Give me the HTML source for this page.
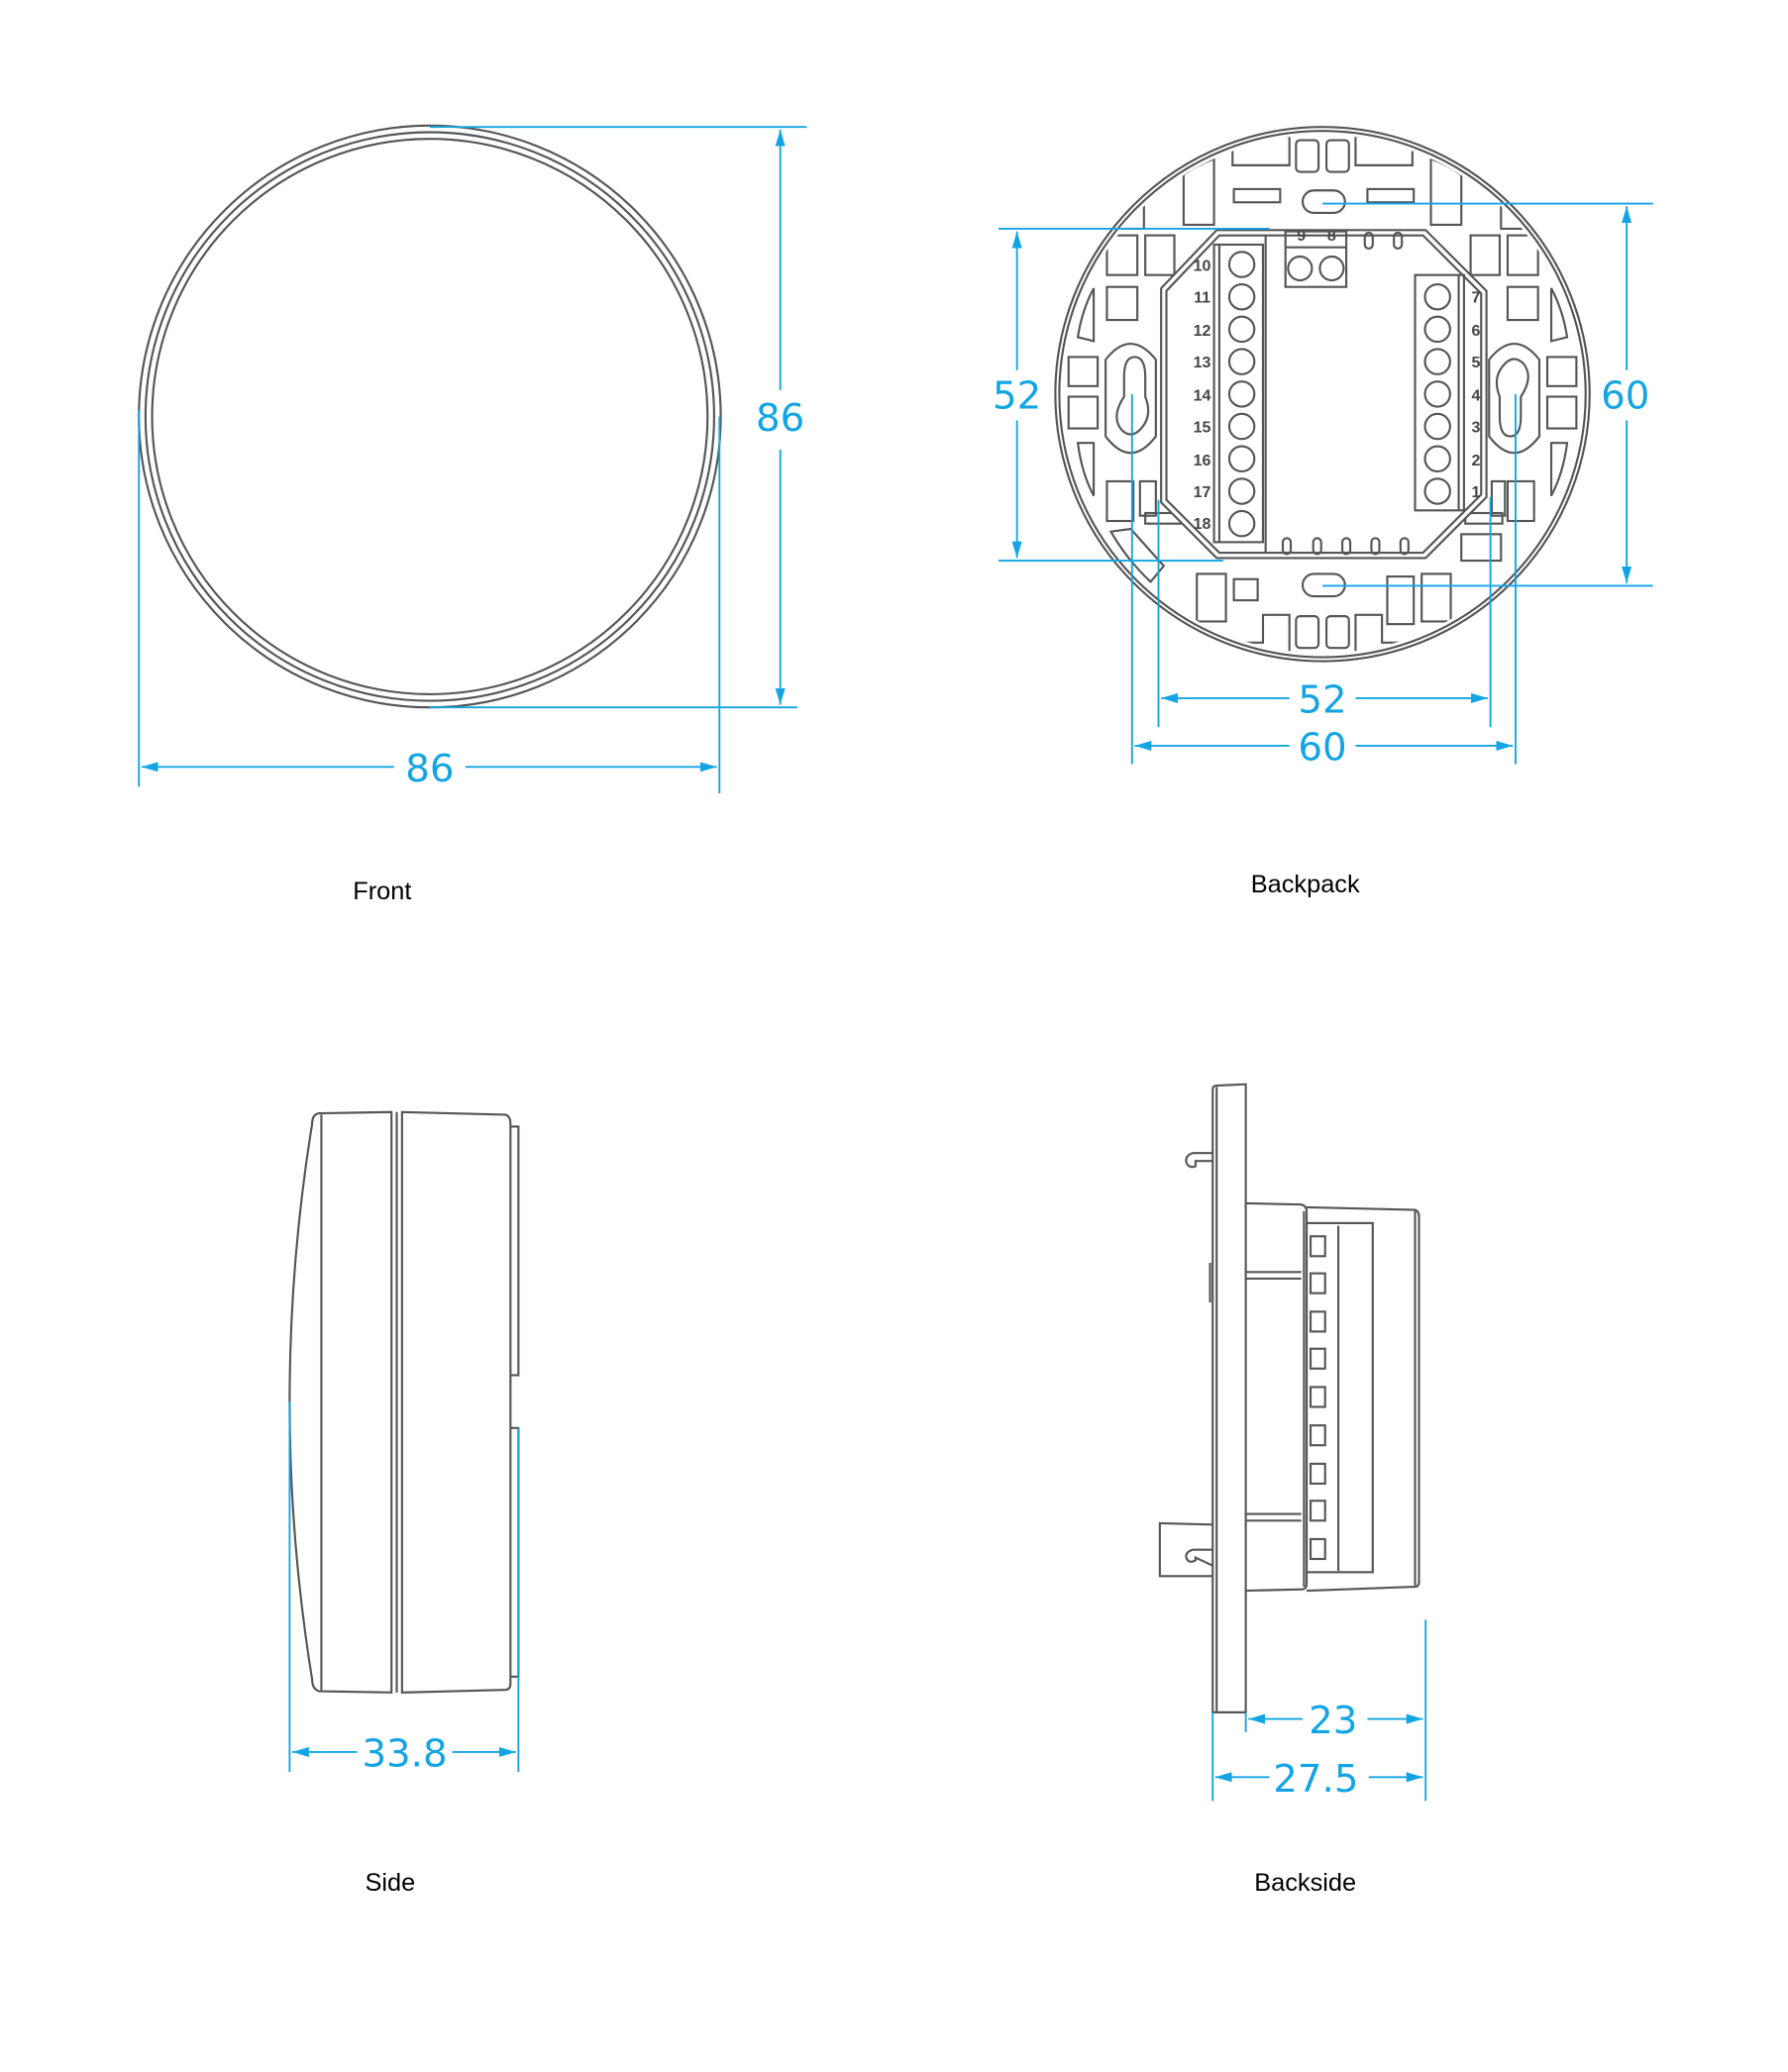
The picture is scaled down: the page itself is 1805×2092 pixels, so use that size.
<!DOCTYPE html>
<html><head><meta charset="utf-8"><style>
html,body{margin:0;padding:0;background:#fff;width:1805px;height:2092px;overflow:hidden}
svg{display:block}
.l{fill:none;stroke:#555;stroke-width:1.6}
.b{fill:none;stroke:#13a5e3;stroke-width:1.4}
.t{fill:#13a5e3;font-family:"DejaVu Sans","Liberation Sans",sans-serif;font-size:29px;text-anchor:middle}
.k{fill:#000;font-family:"Liberation Sans",sans-serif;font-size:19px;text-anchor:middle}
.n{fill:#444;font-family:"Liberation Sans",sans-serif;font-size:12px;font-weight:bold;text-anchor:middle}
</style></head><body>
<svg width="1805" height="2092" viewBox="0 0 1352 1567" xmlns="http://www.w3.org/2000/svg">
<defs>
<marker id="a" viewBox="0 0 10 10" refX="10" refY="5" markerWidth="9" markerHeight="9" orient="auto-start-reverse"><path d="M0,2 L10,5 L0,8 z" fill="#13a5e3"/></marker>
<clipPath id="cc"><circle cx="1000" cy="298" r="196"/></clipPath>
</defs>

<!-- FRONT -->
<circle class="l" cx="325" cy="315" r="220"/>
<circle class="l" cx="325" cy="315" r="215"/>
<circle class="l" cx="325" cy="315" r="210"/>
<line class="b" x1="325" y1="96" x2="610" y2="96"/>
<line class="b" x1="325" y1="535" x2="603" y2="535"/>
<line class="b" x1="590" y1="98" x2="590" y2="295" marker-start="url(#a)"/>
<line class="b" x1="590" y1="340" x2="590" y2="533" marker-end="url(#a)"/>
<text class="t" x="590" y="326">86</text>
<line class="b" x1="105" y1="310" x2="105" y2="595"/>
<line class="b" x1="544" y1="315" x2="544" y2="600"/>
<line class="b" x1="107" y1="580" x2="298" y2="580" marker-start="url(#a)"/>
<line class="b" x1="352" y1="580" x2="542" y2="580" marker-end="url(#a)"/>
<text class="t" x="325" y="591">86</text>
<text class="k" x="289" y="680">Front</text>

<!-- BACKPACK -->
<circle class="l" cx="1000" cy="298" r="202"/>
<circle class="l" cx="1000" cy="298" r="199"/>
<g class="l" clip-path="url(#cc)">
<path d="M932,110 Q950,104 975,103 L975,125 L932,125 Z"/>
<rect x="980" y="106" width="17" height="24" rx="3"/>
<rect x="1003" y="106" width="17" height="24" rx="3"/>
<path d="M1068,110 Q1050,104 1025,103 L1025,125 L1068,125 Z"/>
<rect x="933" y="143" width="35" height="10"/><rect x="1034" y="143" width="35" height="10"/>
<rect x="985" y="144" width="32" height="17" rx="8.5"/>
<rect x="985" y="434" width="32" height="17" rx="8.5"/>
<path d="M932,486 Q950,492 975,493 L975,465 L955,465 L955,486 Z"/>
<rect x="980" y="466" width="17" height="24" rx="3"/>
<rect x="1003" y="466" width="17" height="24" rx="3"/>
<path d="M1068,486 Q1050,492 1025,493 L1025,465 L1045,465 L1045,486 Z"/>
<rect x="933" y="438" width="18" height="16"/><rect x="1049" y="436" width="20" height="36"/>
<rect x="1075" y="434" width="22" height="36"/><rect x="905" y="434" width="22" height="36"/>
<rect x="808" y="270" width="22" height="22"/><rect x="808" y="300" width="22" height="24"/>
<path d="M815,255 Q818,235 827,218 L827,258 Z"/>
<path d="M815,335 Q818,358 827,375 L827,335 Z"/>
<rect x="837" y="178" width="23" height="30"/><rect x="866" y="178" width="22" height="30"/>
<rect x="837" y="217" width="23" height="25"/>
<rect x="837" y="364" width="20" height="30"/><rect x="862" y="364" width="12" height="26"/>
<path d="M843,173 L843,150 Q855,135 865,128 L865,173 Z"/>
<path d="M895,170 L895,132 Q905,125 918,120 L918,170 Z"/>
<path d="M840,402 Q852,423 870,440 L880,428 L855,400 Z"/>
<rect x="1170" y="270" width="22" height="22"/><rect x="1170" y="300" width="22" height="24"/>
<path d="M1185,255 Q1182,235 1173,218 L1173,258 Z"/>
<path d="M1185,335 Q1182,358 1173,375 L1173,335 Z"/>
<rect x="1140" y="178" width="23" height="30"/><rect x="1112" y="178" width="22" height="30"/>
<rect x="1140" y="217" width="23" height="25"/>
<rect x="1140" y="364" width="20" height="30"/><rect x="1128" y="364" width="10" height="26"/>
<path d="M1157,173 L1157,150 Q1145,135 1135,128 L1135,173 Z"/>
<path d="M1105,170 L1105,132 Q1095,125 1082,120 L1082,170 Z"/>
<rect x="1105" y="404" width="30" height="20"/>
<path d="M836,272 Q855,248 874,272 L874,330 Q855,355 836,330 Z"/>
<path d="M850,300 L850,285 Q850,270 858,270 Q866,270 866,285 L866,300 Q872,315 862,325 Q855,332 848,325 Q840,315 850,300 Z"/>
<path d="M1126,272 Q1145,248 1164,272 L1164,330 Q1145,355 1126,330 Z"/>
<path d="M1150,300 L1150,315 Q1150,330 1142,330 Q1134,330 1134,315 L1134,300 Q1128,285 1138,275 Q1145,268 1152,275 Q1160,285 1150,300 Z"/>
<rect x="866" y="388" width="28" height="8"/><rect x="1108" y="388" width="28" height="8"/>
</g>
<path d="M920,174 L1078,174 L1124,220 L1124,376 L1078,422 L920,422 L878,380 L878,218 Z" fill="#fff" stroke="#555" stroke-width="1.6"/>
<path d="M922,178 L1076,178 L1120,222 L1120,374 L1076,418 L922,418 L882,378 L882,220 Z" class="l"/>
<line class="l" x1="957" y1="178" x2="957" y2="418"/>
<rect class="l" x="918" y="185" width="37" height="225" fill="#fff"/>
<line class="l" x1="922" y1="185" x2="922" y2="410"/>
<g class="l">
<circle cx="939" cy="200" r="9.5"/><circle cx="939" cy="224.5" r="9.5"/><circle cx="939" cy="249" r="9.5"/><circle cx="939" cy="273.5" r="9.5"/><circle cx="939" cy="298" r="9.5"/><circle cx="939" cy="322.5" r="9.5"/><circle cx="939" cy="347" r="9.5"/><circle cx="939" cy="371.5" r="9.5"/><circle cx="939" cy="396" r="9.5"/>
</g>
<g class="n">
<text x="909" y="205">10</text><text x="909" y="229">11</text><text x="909" y="254">12</text><text x="909" y="278">13</text><text x="909" y="303">14</text><text x="909" y="327">15</text><text x="909" y="352">16</text><text x="909" y="376">17</text><text x="909" y="400">18</text>
<text x="1116" y="229">7</text><text x="1116" y="254">6</text><text x="1116" y="278">5</text><text x="1116" y="303">4</text><text x="1116" y="327">3</text><text x="1116" y="352">2</text><text x="1116" y="376">1</text>
<text x="984" y="182">9</text><text x="1007" y="182">8</text>
</g>
<rect class="l" x="1070" y="208" width="37" height="178" fill="#fff"/>
<line class="l" x1="1103" y1="208" x2="1103" y2="386"/>
<g class="l">
<circle cx="1087" cy="224.5" r="9.5"/><circle cx="1087" cy="249" r="9.5"/><circle cx="1087" cy="273.5" r="9.5"/><circle cx="1087" cy="298" r="9.5"/><circle cx="1087" cy="322.5" r="9.5"/><circle cx="1087" cy="347" r="9.5"/><circle cx="1087" cy="371.5" r="9.5"/>
</g>
<rect class="l" x="972" y="175" width="46" height="42" fill="#fff"/>
<line class="l" x1="972" y1="187" x2="1018" y2="187"/>
<circle class="l" cx="983" cy="203" r="9"/><circle class="l" cx="1007" cy="203" r="9"/>
<g class="l">
<rect x="1032" y="176" width="6" height="12" rx="3"/><rect x="1054" y="176" width="6" height="12" rx="3"/>
<rect x="970" y="407" width="6" height="12" rx="3"/><rect x="993" y="407" width="6" height="12" rx="3"/><rect x="1015" y="407" width="6" height="12" rx="3"/><rect x="1037" y="407" width="6" height="12" rx="3"/><rect x="1059" y="407" width="6" height="12" rx="3"/>
</g>
<line class="b" x1="755" y1="173" x2="960" y2="173"/>
<line class="b" x1="755" y1="424" x2="925" y2="424"/>
<line class="b" x1="769" y1="175" x2="769" y2="280" marker-start="url(#a)"/>
<line class="b" x1="769" y1="318" x2="769" y2="422" marker-end="url(#a)"/>
<text class="t" x="769" y="309">52</text>
<line class="b" x1="1000" y1="154" x2="1250" y2="154"/>
<line class="b" x1="1000" y1="443" x2="1250" y2="443"/>
<line class="b" x1="1230" y1="156" x2="1230" y2="280" marker-start="url(#a)"/>
<line class="b" x1="1230" y1="318" x2="1230" y2="441" marker-end="url(#a)"/>
<text class="t" x="1229" y="309">60</text>
<line class="b" x1="876" y1="378" x2="876" y2="550"/>
<line class="b" x1="1127" y1="376" x2="1127" y2="550"/>
<line class="b" x1="856" y1="298" x2="856" y2="578"/>
<line class="b" x1="1146" y1="298" x2="1146" y2="578"/>
<line class="b" x1="878" y1="528" x2="975" y2="528" marker-start="url(#a)"/>
<line class="b" x1="1025" y1="528" x2="1125" y2="528" marker-end="url(#a)"/>
<text class="t" x="1000" y="539">52</text>
<line class="b" x1="858" y1="564" x2="975" y2="564" marker-start="url(#a)"/>
<line class="b" x1="1025" y1="564" x2="1144" y2="564" marker-end="url(#a)"/>
<text class="t" x="1000" y="575">60</text>
<text class="k" x="987" y="675">Backpack</text>

<!-- SIDE -->
<g class="l">
<path d="M241,842 L296,841 L296,1280 L241,1279 Q236,1277 236,1270 Q202,1060 236,850 Q236,843 241,842 Z"/>
<line x1="243" y1="843" x2="243" y2="1279"/>
<line x1="300" y1="841" x2="300" y2="1280"/>
<path d="M304,841 L382,843 Q386,844 386,850 L386,1273 Q386,1278 382,1278 L304,1280 Z"/>
<path d="M386,852 L392,852 L392,1040 L386,1040"/>
<path d="M386,1080 L392,1080 L392,1268 L386,1268"/>
</g>
<line class="b" x1="219" y1="1060" x2="219" y2="1340"/>
<line class="b" x1="392" y1="1080" x2="392" y2="1340"/>
<line class="b" x1="221" y1="1325" x2="270" y2="1325" marker-start="url(#a)"/>
<line class="b" x1="342" y1="1325" x2="390" y2="1325" marker-end="url(#a)"/>
<text class="t" x="306" y="1336">33.8</text>
<text class="k" x="295" y="1430">Side</text>

<!-- BACKSIDE -->
<g class="l">
<path d="M917,824 Q917,821 920,821 L942,820 L942,1295 L917,1295 Z"/>
<line x1="920" y1="822" x2="920" y2="1295"/>
<path d="M942,910 L984,911 Q988,912 988,916 L988,1198 Q988,1202 984,1202 L942,1203"/>
<line x1="942" y1="962" x2="984" y2="962"/>
<line x1="942" y1="967" x2="984" y2="967"/>
<line x1="942" y1="1145" x2="984" y2="1145"/>
<line x1="942" y1="1150" x2="984" y2="1150"/>
<path d="M988,913 L1070,915 Q1073,916 1073,920 L1073,1196 Q1073,1200 1070,1200 L988,1203"/>
<line x1="1070" y1="916" x2="1070" y2="1199"/>
<line x1="986" y1="916" x2="986" y2="1200"/>
<rect x="988" y="925" width="50" height="264"/>
<line x1="1012" y1="927" x2="1012" y2="1188"/>
<rect x="991" y="935" width="11" height="15"/><rect x="991" y="963" width="11" height="15"/><rect x="991" y="992" width="11" height="15"/><rect x="991" y="1020" width="11" height="15"/><rect x="991" y="1049" width="11" height="15"/><rect x="991" y="1078" width="11" height="15"/><rect x="991" y="1107" width="11" height="15"/><rect x="991" y="1135" width="11" height="15"/><rect x="991" y="1164" width="11" height="15"/>
<path d="M917,872 L902,872 Q896,874 897,879 Q899,884 904,882 L904,878 L917,878"/>
<path d="M917,1153 L877,1152 L877,1192 L917,1192"/>
<path d="M917,1172 L902,1172 Q896,1174 897,1178 Q899,1183 904,1180 L904,1178 L917,1184"/>
<line x1="915" y1="955" x2="915" y2="985"/>
</g>
<line class="b" x1="917" y1="1295" x2="917" y2="1362"/>
<line class="b" x1="942" y1="1295" x2="942" y2="1310"/>
<line class="b" x1="1078" y1="1225" x2="1078" y2="1362"/>
<line class="b" x1="944" y1="1300" x2="985" y2="1300" marker-start="url(#a)"/>
<line class="b" x1="1034" y1="1300" x2="1076" y2="1300" marker-end="url(#a)"/>
<text class="t" x="1008" y="1311">23</text>
<line class="b" x1="919" y1="1344" x2="960" y2="1344" marker-start="url(#a)"/>
<line class="b" x1="1035" y1="1344" x2="1076" y2="1344" marker-end="url(#a)"/>
<text class="t" x="995" y="1355">27.5</text>
<text class="k" x="987" y="1430">Backside</text>
</svg>
</body></html>
